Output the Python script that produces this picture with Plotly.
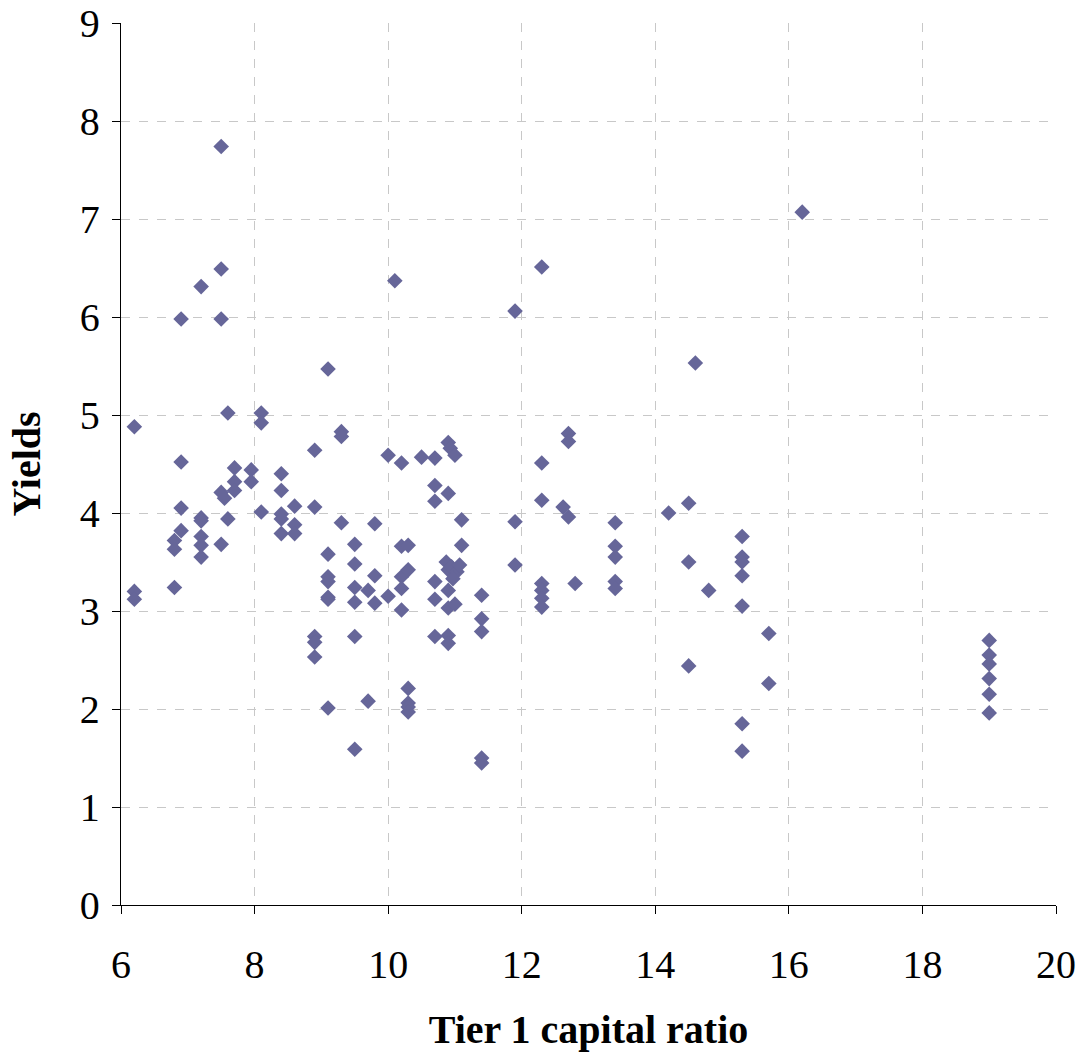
import plotly.graph_objects as go

# Tier 1 capital ratio (x) and yields (y) for each observation
tier1_ratio = [
    6.2, 6.2, 6.2,
    6.8, 6.8, 6.8,
    6.9, 6.9, 6.9, 6.9,
    7.2, 7.2, 7.2, 7.2, 7.2, 7.2,
    7.5, 7.5, 7.5, 7.5, 7.5,
    7.55,
    7.6, 7.6,
    7.7, 7.7, 7.7,
    7.95, 7.95,
    8.1, 8.1, 8.1,
    8.4, 8.4, 8.4, 8.4, 8.4,
    8.6, 8.6, 8.6,
    8.9, 8.9, 8.9, 8.9, 8.9,
    9.1, 9.1, 9.1, 9.1, 9.1, 9.1, 9.1,
    9.3, 9.3, 9.3,
    9.5, 9.5, 9.5, 9.5, 9.5, 9.5,
    9.7, 9.7,
    9.8, 9.8, 9.8,
    10.0, 10.0,
    10.1,
    10.2, 10.2, 10.2, 10.2, 10.2,
    10.3, 10.3, 10.3, 10.3, 10.3, 10.3,
    10.5,
    10.7, 10.7, 10.7, 10.7, 10.7, 10.7,
    10.9, 10.93, 10.9, 10.87, 10.9, 10.9, 10.9, 10.9, 10.9,
    11.0, 10.95, 11.03, 10.97, 11.0,
    11.1, 11.1, 11.07,
    11.4, 11.4, 11.4, 11.4, 11.4,
    11.9, 11.9, 11.9,
    12.3, 12.3, 12.3, 12.3, 12.3, 12.3, 12.3,
    12.62,
    12.7, 12.7, 12.7,
    12.8,
    13.4, 13.4, 13.4, 13.4, 13.4,
    14.2,
    14.5, 14.5, 14.5,
    14.6,
    14.8,
    15.3, 15.3, 15.3, 15.3, 15.3, 15.3, 15.3,
    15.7, 15.7,
    16.2,
    19.0, 19.0, 19.0, 19.0, 19.0, 19.0,
]

yields = [
    4.88, 3.20, 3.12,
    3.72, 3.63, 3.24,
    5.98, 4.52, 4.05, 3.82,
    6.31, 3.95, 3.92, 3.76, 3.67, 3.55,
    7.74, 6.49, 5.98, 4.21, 3.68,
    4.15,
    5.02, 3.94,
    4.46, 4.32, 4.23,
    4.44, 4.32,
    5.02, 4.92, 4.01,
    4.40, 4.23, 3.99, 3.94, 3.79,
    4.07, 3.88, 3.79,
    4.64, 4.06, 2.74, 2.68, 2.53,
    5.47, 3.58, 3.35, 3.30, 3.14, 3.12, 2.01,
    4.83, 4.78, 3.90,
    3.68, 3.48, 3.24, 3.09, 2.74, 1.59,
    3.21, 2.08,
    3.89, 3.36, 3.08,
    4.59, 3.15,
    6.37,
    4.51, 3.66, 3.35, 3.23, 3.01,
    3.67, 3.42, 2.21, 2.06, 2.02, 1.97,
    4.57,
    4.56, 4.28, 4.12, 3.30, 3.12, 2.74,
    4.72, 4.66, 4.20, 3.50, 3.42, 3.21, 3.03, 2.75, 2.67,
    4.59, 3.45, 3.40, 3.33, 3.07,
    3.93, 3.67, 3.47,
    3.16, 2.92, 2.79, 1.50, 1.45,
    6.06, 3.91, 3.47,
    6.51, 4.51, 4.13, 3.28, 3.21, 3.13, 3.04,
    4.06,
    4.81, 4.73, 3.96,
    3.28,
    3.90, 3.66, 3.55, 3.30, 3.23,
    4.00,
    4.10, 3.50, 2.44,
    5.53,
    3.21,
    3.76, 3.55, 3.50, 3.36, 3.05, 1.85, 1.57,
    2.77, 2.26,
    7.07,
    2.70, 2.55, 2.46, 2.31, 2.15, 1.96,
]

x_ticks = [6, 8, 10, 12, 14, 16, 18, 20]
y_ticks = [0, 1, 2, 3, 4, 5, 6, 7, 8, 9]

serif = "Liberation Serif, Times New Roman, serif"

fig = go.Figure(
    go.Scatter(
        x=tier1_ratio,
        y=yields,
        mode="markers",
        marker=dict(symbol="diamond", size=12, color="#666699", line=dict(width=0)),
        showlegend=False,
    )
)

axis_common = dict(
    showline=True,
    linecolor="#000000",
    linewidth=1.3,
    ticks="outside",
    ticklen=8,
    tickwidth=1.3,
    tickcolor="#000000",
    showgrid=True,
    gridcolor="#c8c8c8",
    gridwidth=1,
    griddash="dash",
    zeroline=False,
    automargin=False,
    tickfont=dict(family=serif, size=40, color="#000000"),
)

fig.update_xaxes(
    range=[6, 20],
    tickvals=x_ticks,
    ticktext=[str(v) for v in x_ticks],
    ticklabelstandoff=16,
    title=dict(text="<b>Tier 1 capital ratio</b>",
               font=dict(family=serif, size=40, color="#000000"),
               standoff=28),
    **axis_common,
)
fig.update_yaxes(
    range=[0, 9],
    tickvals=y_ticks,
    ticktext=[str(v) for v in y_ticks],
    ticklabelstandoff=4,
    title=dict(text="<b>Yields</b>",
               font=dict(family=serif, size=40, color="#000000"),
               standoff=26),
    **axis_common,
)

fig.update_layout(
    width=1080,
    height=1053,
    margin=dict(l=121, r=24, t=23, b=148),
    paper_bgcolor="#ffffff",
    plot_bgcolor="#ffffff",
)

fig.write_html("out.html")
